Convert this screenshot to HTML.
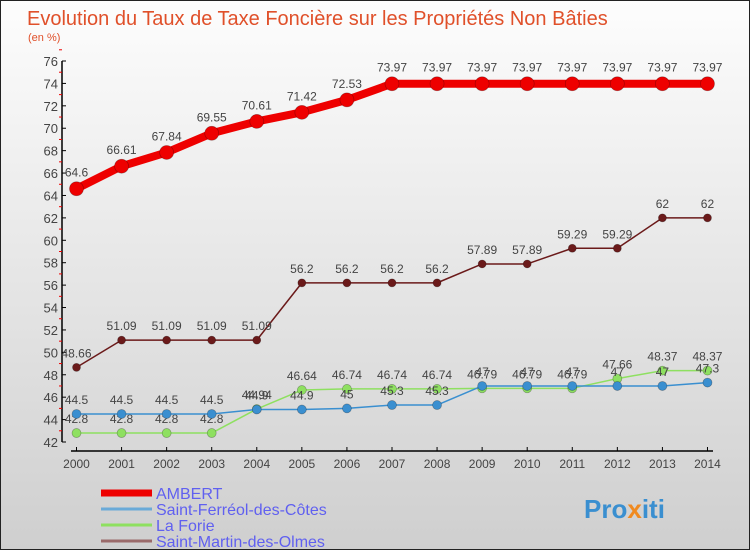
<!DOCTYPE html>
<html><head><meta charset="utf-8"><style>
html,body{margin:0;padding:0}
body{width:750px;height:550px;overflow:hidden;font-family:"Liberation Sans","DejaVu Sans",sans-serif}
#c{position:absolute;left:0;top:0;width:748px;height:548px;border:1px solid #222;background:linear-gradient(#fdfdfd,#cfcfcf)}
</style></head><body>
<div id="c">
<svg id="s" width="750" height="550" xmlns="http://www.w3.org/2000/svg">
<text x="26" y="24" font-size="20" fill="#e0502a">Evolution du Taux de Taxe Foncière sur les Propriétés Non Bâties</text>
<text x="27" y="40" font-size="11" fill="#e0502a">(en %)</text>
<g id="axes"></g><g id="series"></g><g id="legend"></g>
<text x="583" y="517" font-size="26" font-weight="bold" fill="#3a8fd0">Pro<tspan fill="#f08a20">x</tspan>iti</text>
</svg></div>
<script>
const years=[2000,2001,2002,2003,2004,2005,2006,2007,2008,2009,2010,2011,2012,2013,2014];
const ambert=[64.6,66.61,67.84,69.55,70.61,71.42,72.53,73.97,73.97,73.97,73.97,73.97,73.97,73.97,73.97];
const ferreol=[44.5,44.5,44.5,44.5,44.9,44.9,45,45.3,45.3,47,47,47,47,47,47.3];
const forie=[42.8,42.8,42.8,42.8,44.94,46.64,46.74,46.74,46.74,46.79,46.79,46.79,47.66,48.37,48.37];
const martin=[48.66,51.09,51.09,51.09,51.09,56.2,56.2,56.2,56.2,57.89,57.89,59.29,59.29,62,62];
const yTicks=[42,44,46,48,50,52,54,56,58,60,62,64,66,68,70,72,74,76];
const NS="http://www.w3.org/2000/svg";
const X=i=>75.5+i*45.07, Y=v=>441-(v-42)*(381/34);
function el(t,a,p){const e=document.createElementNS(NS,t);for(const k in a)e.setAttribute(k,a[k]);p.appendChild(e);return e;}
const ax=document.getElementById('axes');
let a=el('line',{x1:61,y1:60,x2:61,y2:441,stroke:'#000','stroke-width':1.5},ax);

a=el('line',{x1:70,y1:450,x2:712,y2:450,stroke:'#000','stroke-width':1.5},ax);

yTicks.forEach(v=>{
 el('line',{x1:61,x2:65,y1:Y(v),y2:Y(v),stroke:'#000'},ax);
 el('line',{x1:58,x2:61,y1:Y(v+1),y2:Y(v+1),stroke:'#e00'},ax);
 const t=el('text',{x:57,y:Y(v)+5,'font-size':13,fill:'#444','text-anchor':'end'},ax);t.textContent=v;
 
});
years.forEach((y,i)=>{
 el('line',{x1:X(i),x2:X(i),y1:446,y2:450,stroke:'#000'},ax);
 const t=el('text',{x:X(i),y:467,'font-size':12,fill:'#444','text-anchor':'middle'},ax);t.textContent=y;
 
});
const sg=document.getElementById('series');
function draw(vals,color,w,r,name,dy){
 const g=el('g',{},sg);
 el('polyline',{points:vals.map((v,i)=>X(i)+','+Y(v)).join(' '),fill:'none',stroke:color,'stroke-width':w,'stroke-linejoin':'round'},g);
 vals.forEach((v,i)=>{
  const c=el('circle',{cx:X(i),cy:Y(v),r:r,fill:color,stroke:'rgba(0,0,0,0.3)','stroke-width':0.7},g);
  
  const t=el('text',{x:X(i),y:Y(v)-dy,'font-size':12,fill:'#444','text-anchor':'middle'},g);t.textContent=v;
  
 });
}
draw(martin,'#6b1a1a',1.5,4,'saint-martin',10);
draw(forie,'#8ee060',1.5,4.5,'la-forie',10);
draw(ferreol,'#3a8fd0',1.5,4.5,'saint-ferreol',10);
draw(ambert,'#ee0000',8,7,'ambert',12);
const lg=document.getElementById('legend');
[['AMBERT','#ee0000',7],['Saint-Ferréol-des-Côtes','#6aaad8',3],['La Forie','#8ee060',3],['Saint-Martin-des-Olmes','#9a6a6a',3]].forEach((d,i)=>{
 const y=492+i*16;
 const g=el('g',{},lg);
 el('line',{x1:100,x2:151,y1:y,y2:y,stroke:d[1],'stroke-width':d[2]},g);
 const t=el('text',{x:155,y:y+6,'font-size':16,fill:'#6060f0'},g);t.textContent=d[0];
});
</script>
</body></html>
